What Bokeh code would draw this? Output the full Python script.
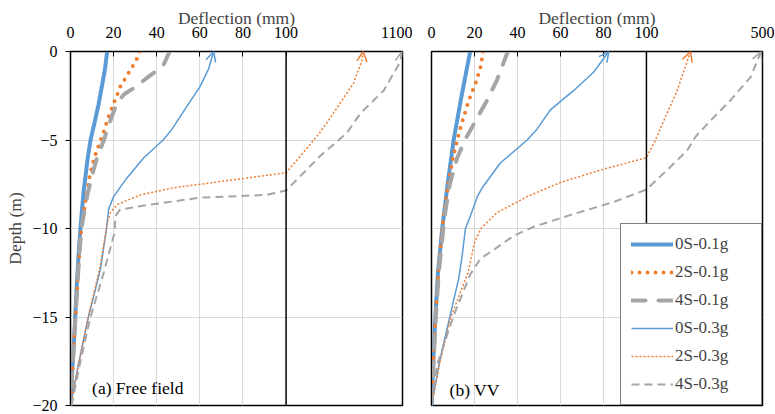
from bokeh.plotting import figure
from bokeh.models import (Range1d, FixedTicker, Span, Arrow, OpenHead, Legend,
                          LegendItem, Label)
from bokeh.layouts import row
from bokeh.embed import file_html
from bokeh.resources import INLINE

# ---------------- data: (a) Free field ----------------
ff_0s01_x = [17, 16, 14.5, 13, 11.2, 9.3, 8, 7, 6, 5.3, 4.6, 4, 3.5, 3, 2.6, 2.2, 1.8, 1.3, 0.8, 0.4, 0]
ff_0s01_y = [0, -1, -2, -3, -4, -5, -6, -7, -8, -9, -10, -11, -12, -13, -14, -15, -16, -17, -18, -19, -20]
ff_2s01_x = [32, 30.5, 28, 25.5, 23, 21.5, 19.8, 18.3, 16.8, 15.5, 14, 11, 9, 7.5, 6.3, 5, 3.8, 2.8, 1.8, 0.9, 0]
ff_2s01_y = [0, -0.5, -1, -1.5, -2, -2.5, -3, -3.5, -4, -4.5, -5, -6, -7, -8, -9, -10, -12, -14, -16, -18, -20]
ff_4s01_x = [46, 43, 37, 29, 25, 21.6, 19.4, 16.8, 15.5, 12.3, 10, 8, 6.5, 5, 3.8, 2.8, 1.8, 0.9, 0]
ff_4s01_y = [0, -0.8, -1.35, -2.1, -2.4, -2.9, -3.6, -4.5, -5, -6, -7, -8, -9, -10, -12, -14, -16, -18, -20]
ff_0s03_x = [66.4, 64, 60, 54, 47, 43, 34, 25.5, 20, 17.7, 16.7, 13.9, 8.3, 4, 0]
ff_0s03_y = [0, -1, -2, -3.1, -4.4, -5, -6, -7.25, -8.2, -8.9, -10, -12.3, -15, -17.5, -20]
ff_2s03_x = [761, 753, 678, 505, 400, 250, 100, 75.5, 47.8, 32.4, 21.6, 18.5, 17, 16, 13.5, 8.2, 4, 0]
ff_2s03_y = [0, -0.5, -1.8, -3.5, -4.5, -5.7, -6.85, -7.25, -7.7, -8.1, -8.65, -9.1, -9.7, -10.5, -12.3, -15, -17.5, -20]
ff_4s03_x = [1095, 1080, 939, 738, 623, 393, 100, 91, 60, 37, 23, 20.8, 20.5, 15.4, 9.3, 4.6, 0.5]
ff_4s03_y = [0, -0.6, -2.2, -3.5, -4.6, -5.9, -7.85, -8.1, -8.26, -8.65, -8.93, -9.3, -10.2, -12.5, -15, -17.5, -20]

# ---------------- data: (b) VV ----------------
vv_0s01_x = [18, 14, 10.3, 7.5, 5, 3, 1.8, 0.8, 0]
vv_0s01_y = [0, -2.5, -5, -7.5, -10, -12.5, -15, -17.5, -20]
vv_2s01_x = [24, 22.8, 20.5, 17.4, 15, 13, 12, 10, 8.5, 7.2, 6, 5, 3.2, 1.9, 0.9, 0]
vv_2s01_y = [0, -0.9, -1.8, -2.75, -3.7, -4.5, -5, -6, -7, -8, -9, -10, -12.5, -15, -17.5, -20]
vv_4s01_x = [35.5, 30.5, 25.9, 19, 15.5, 12, 8.5, 6.5, 5.5, 3.4, 2, 1, 0]
vv_4s01_y = [0, -1.6, -2.75, -4.25, -5, -6, -7.5, -9, -10, -12.5, -15, -17.5, -20]
vv_0s03_x = [82.5, 75.5, 66.2, 55.3, 49, 44.5, 32, 23.6, 21.3, 18.1, 15.8, 14.3, 12.7, 8.5, 3.8, 0]
vv_0s03_y = [0, -1.16, -2.2, -3.3, -4.4, -5, -6.3, -7.7, -8.2, -9.3, -10, -11.5, -12.8, -15, -17.5, -20]
vv_2s03_x = [252, 206, 160, 131, 100, 78.6, 60, 44.5, 30.5, 23, 20, 17, 9, 4, 0]
vv_2s03_y = [0, -2.2, -3.9, -5, -6, -6.7, -7.4, -8.2, -9.1, -10, -10.8, -12.5, -15, -17.5, -20]
vv_4s03_x = [495, 459, 390, 321, 270, 240, 171, 100, 84.8, 63, 47.6, 38.3, 29, 22.8, 18, 10.4, 2.6, 0]
vv_4s03_y = [0, -1.45, -2.75, -3.9, -4.8, -5.6, -6.7, -7.8, -8.5, -9.3, -9.9, -10.4, -11.2, -11.7, -12.6, -14.9, -17.7, -20]

series_names = ["0S-0.1g", "2S-0.1g", "4S-0.1g", "0S-0.3g", "2S-0.3g", "4S-0.3g"]
x_ticks = [0, 20, 40, 60, 80, 100]
y_ticks = [0, -5, -10, -15, -20]
ff_axis_end = 1100
vv_axis_end = 500

BLUE = "#5B9BD5"
ORANGE = "#ED7D31"
GRAY = "#A5A5A5"
FONT = "Liberation Serif"
SEG = 54  # axis units taken by the compressed 100..end segment
styles = [
    dict(line_color=BLUE, line_width=4, line_cap="round"),
    dict(line_color=ORANGE, line_width=4, line_dash="0 8", line_cap="round"),
    dict(line_color=GRAY, line_width=4, line_dash="14 13", line_cap="round"),
    dict(line_color=BLUE, line_width=1.5),
    dict(line_color=ORANGE, line_width=1.5, line_dash="2 2"),
    dict(line_color=GRAY, line_width=2, line_dash="8 5"),
]


def brk(xs, end):
    return [x if x <= 100 else 100 + (x - 100) * SEG / (end - 100) for x in xs]


def make_panel(series, end, panel_text, left_axis, width, bl, br, label_xy):
    p = figure(width=width, height=414, x_range=Range1d(0, 100 + SEG),
               y_range=Range1d(-20, 0), x_axis_location="above",
               output_backend="svg", toolbar_location=None,
               min_border_left=bl, min_border_right=br, min_border_top=51,
               min_border_bottom=9, background_fill_color="white",
               border_fill_color="white")
    p.outline_line_color = "black"
    p.outline_line_width = 1.5
    p.outline_line_alpha = 1.0

    xa = p.xaxis[0]
    xa.ticker = FixedTicker(ticks=x_ticks + [100 + SEG])
    xa.major_label_overrides = {100 + SEG: str(end)}
    xa.axis_label = "Deflection (mm)"
    xa.axis_label_text_font = FONT
    xa.axis_label_text_font_size = "17.5px"
    xa.axis_label_text_font_style = "normal"
    xa.axis_label_standoff = -4
    xa.major_label_text_font = FONT
    xa.major_label_text_font_size = "16px"
    xa.major_label_standoff = 14
    xa.major_tick_in = 5
    xa.major_tick_out = 0
    xa.axis_line_color = "black"
    xa.major_tick_line_color = "black"
    xa.major_label_text_color = "black"

    ya = p.yaxis[0]
    ya.ticker = FixedTicker(ticks=y_ticks)
    ya.major_tick_in = 0
    ya.major_tick_out = 5
    ya.axis_line_color = "black"
    ya.major_tick_line_color = "black"
    ya.major_label_text_font = FONT
    ya.major_label_text_font_size = "16px"
    ya.major_label_standoff = 8
    if left_axis:
        ya.axis_label = "Depth (m)"
        ya.axis_label_text_font = FONT
        ya.axis_label_text_font_size = "17.5px"
        ya.axis_label_text_font_style = "normal"
        ya.axis_label_standoff = 4
        ya.major_label_text_color = "black"
    else:
        ya.major_label_text_color = None
        ya.major_tick_line_color = None

    p.xgrid.ticker = FixedTicker(ticks=[20, 40, 60, 80])
    p.ygrid.ticker = FixedTicker(ticks=[-5, -10, -15])
    p.grid.grid_line_color = "#D9D9D9"
    p.grid.grid_line_width = 1

    p.add_layout(Span(location=100, dimension="height", line_color="black",
                      line_width=1.5))

    renderers = []
    for i, (xs, ys) in enumerate(series):
        bx = brk(xs, end)
        r = p.line(bx, ys, **styles[i])
        renderers.append(r)
        if i >= 3:
            st = styles[i]
            p.add_layout(Arrow(end=OpenHead(line_color=st["line_color"], line_width=1.5, size=10),
                               x_start=bx[1], y_start=ys[1], x_end=bx[0], y_end=ys[0],
                               line_alpha=0))
    p.add_layout(Label(x=label_xy[0], y=label_xy[1], text=panel_text, text_font=FONT,
                       text_font_size="17.5px", text_baseline="middle", text_color="black"))
    return p, renderers


ff_series = [(ff_0s01_x, ff_0s01_y), (ff_2s01_x, ff_2s01_y), (ff_4s01_x, ff_4s01_y),
             (ff_0s03_x, ff_0s03_y), (ff_2s03_x, ff_2s03_y), (ff_4s03_x, ff_4s03_y)]
vv_series = [(vv_0s01_x, vv_0s01_y), (vv_2s01_x, vv_2s01_y), (vv_4s01_x, vv_4s01_y),
             (vv_0s03_x, vv_0s03_y), (vv_2s03_x, vv_2s03_y), (vv_4s03_x, vv_4s03_y)]

p1, _ = make_panel(ff_series, ff_axis_end, "(a) Free field", True, 412, 70, 10, (10, -19.0))
p2, r2 = make_panel(vv_series, vv_axis_end, "(b) VV", False, 363, 19, 13, (8.4, -19.15))

legend = Legend(items=[LegendItem(label=n, renderers=[r]) for n, r in zip(series_names, r2)],
                location="bottom_right", margin=0, padding=10, spacing=8,
                glyph_width=42, glyph_height=18, label_height=18, label_width=76,
                label_standoff=2, label_text_font=FONT, label_text_font_size="17px",
                border_line_color="black", border_line_width=1.5,
                background_fill_color="white", background_fill_alpha=1.0)
p2.add_layout(legend)

layout = row(p1, p2)
open("out.html", "w").write(file_html(layout, INLINE))
